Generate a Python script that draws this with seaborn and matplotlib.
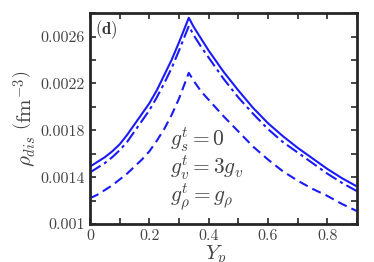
import numpy as np
import pandas as pd
import seaborn as sns
import matplotlib
matplotlib.use('Agg')
import matplotlib.pyplot as plt
from matplotlib.ticker import MultipleLocator

# data
yp = [0, 0.025, 0.05, 0.075, 0.1, 0.125, 0.15, 0.175, 0.2, 0.225, 0.25, 0.275, 0.3, 0.333,
      0.35, 0.375, 0.4, 0.45, 0.5, 0.55, 0.6, 0.65, 0.7, 0.75, 0.8, 0.85, 0.9]
rho_solid = [0.00149, 0.00153, 0.00157, 0.00162, 0.00168, 0.00176, 0.00185, 0.00194, 0.00203,
             0.00214, 0.00227, 0.00240, 0.00255, 0.00276,
             0.00268, 0.00258, 0.00248, 0.00230, 0.00214, 0.00199, 0.00186, 0.00175, 0.00165,
             0.00156, 0.00147, 0.00139, 0.00132]
rho_dashdot = [0.00144, 0.00148, 0.00152, 0.00157, 0.00163, 0.00170, 0.00179, 0.00188, 0.00197,
               0.00208, 0.00220, 0.00233, 0.00248, 0.00269,
               0.00261, 0.00251, 0.00242, 0.00224, 0.00208, 0.00194, 0.00181, 0.00170, 0.00161,
               0.00152, 0.00143, 0.00135, 0.00128]
rho_dashed = [0.00122, 0.00125, 0.00129, 0.00133, 0.00138, 0.00143, 0.00149, 0.00155, 0.00162,
              0.00171, 0.00181, 0.00193, 0.00207, 0.00229,
              0.00222, 0.00213, 0.00206, 0.00192, 0.00179, 0.00166, 0.00155, 0.00145, 0.00137,
              0.00130, 0.00124, 0.00117, 0.00111]

yticks = [0.001, 0.0014, 0.0018, 0.0022, 0.0026]
xticks = [0, 0.2, 0.4, 0.6, 0.8]

sns.set_style('ticks')
plt.rcParams['font.family'] = ['cmr10', 'DejaVu Serif']
plt.rcParams['mathtext.fontset'] = 'cm'
plt.rcParams['axes.formatter.use_mathtext'] = True

df = pd.DataFrame({'yp': yp, 'solid': rho_solid, 'dashdot': rho_dashdot, 'dashed': rho_dashed})

fig = plt.figure(figsize=(3.74, 2.62), dpi=100)
ax = fig.add_axes([0.2406, 0.145, 0.714, 0.805])

blue = '#1a1aff'
sns.lineplot(data=df, x='yp', y='solid', ax=ax, color=blue, lw=1.5, linestyle='-')
sns.lineplot(data=df, x='yp', y='dashdot', ax=ax, color=blue, lw=1.5, linestyle=(0, (6, 2, 1.5, 2)))
sns.lineplot(data=df, x='yp', y='dashed', ax=ax, color=blue, lw=1.5, linestyle=(0, (4.5, 2.5)))

ax.set_xlim(0, 0.9)
ax.set_ylim(0.001, 0.0028)
ax.set_xticks(xticks)
ax.set_xticklabels(['0', '0.2', '0.4', '0.6', '0.8'])
ax.set_yticks(yticks)
ax.set_yticklabels(['0.001', '0.0014', '0.0018', '0.0022', '0.0026'])
ax.xaxis.set_minor_locator(MultipleLocator(0.1))
ax.yaxis.set_minor_locator(MultipleLocator(0.0002))
ax.tick_params(which='both', direction='in', top=True, right=True, labelsize=11.5,
               labelcolor='#444444', width=1.2)
ax.tick_params(which='major', length=4, pad=4)
ax.tick_params(which='minor', length=4)
for s in ax.spines.values():
    s.set_linewidth(2)

ax.set_xlabel(r'$Y_p$', fontsize=15, color='#444444')
ax.xaxis.set_label_coords(0.47, -0.09)
ax.set_ylabel(r'$\rho_{dis}\ \left(\mathrm{fm}^{-3}\right)$', fontsize=15, color='#444444', labelpad=1)

ax.text(0.02, 0.975, r'$\mathbf{(d)}$', transform=ax.transAxes, fontsize=12, va='top', ha='left', color='#333333')
ax.text(0.27, 0.00172, r'$g_s^t=0$', fontsize=15.5, color='#444444', va='center')
ax.text(0.27, 0.00148, r'$g_v^t=3g_v$', fontsize=15.5, color='#444444', va='center')
ax.text(0.27, 0.00123, r'$g_\rho^t=g_\rho$', fontsize=15.5, color='#444444', va='center')

fig.savefig('out.png', dpi=100)
